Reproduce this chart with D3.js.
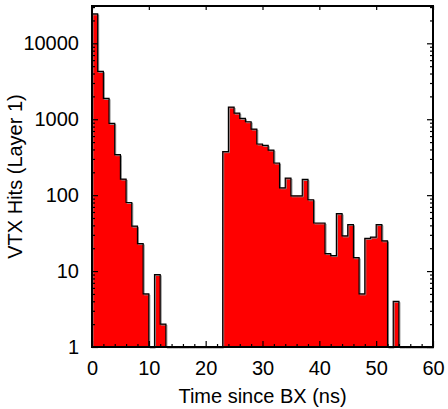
<!DOCTYPE html>
<html>
<head>
<meta charset="utf-8">
<script src="https://cdn.jsdelivr.net/npm/d3@7"></script>
<style>
  html, body { margin: 0; padding: 0; background: #ffffff; }
  svg { display: block; }
  text { font-family: "Liberation Sans", Arial, sans-serif; fill: #000; }
</style>
</head>
<body>
<svg id="chart" width="448" height="409"></svg>
<script>
// Hit-time histogram, 1 ns bins from 0 to 60 ns
const binEdgesStart = 0;
const binWidth = 1;
const hitCounts = [
  24400, 4260, 1880, 880, 341, 163, 80, 39, 23, 5,
  0, 9, 2, 0, 0, 0, 0, 0, 0, 0,
  0, 0, 0, 374, 1446, 1200, 1025, 927, 742, 472,
  452, 393, 265, 125, 168, 98, 98, 161, 87, 43,
  43, 17, 16, 57, 29, 41, 15, 5, 27, 28,
  41, 25, 0, 4, 0, 0, 0, 0, 0, 0
];
const xTickValues = [0, 10, 20, 30, 40, 50, 60];
const yTickValues = [1, 10, 100, 1000, 10000];
const xTitle = "Time since BX (ns)";
const yTitle = "VTX Hits (Layer 1)";

const FONT_SIZE = 20;
const svg = d3.select("#chart");
const plot = { left: 92, right: 433, top: 6, bottom: 347 };

const x = d3.scaleLinear().domain([0, 60]).range([plot.left, plot.right]);
const y = d3.scaleLog().domain([1, 31000]).range([plot.bottom, plot.top]);

const bins = hitCounts.map((c, i) => ({
  x0: binEdgesStart + i * binWidth,
  x1: binEdgesStart + (i + 1) * binWidth,
  count: c
}));

// Step outline of the histogram (empty bins sit on the axis)
const clampY = c => y(Math.max(c, 1));
const stepPts = [[x(bins[0].x0), plot.bottom]];
bins.forEach(d => {
  stepPts.push([x(d.x0), clampY(d.count)]);
  stepPts.push([x(d.x1), clampY(d.count)]);
});
stepPts.push([x(bins[bins.length - 1].x1), plot.bottom]);
const line = d3.line();

const g = svg.append("g");
// Filled histogram body
g.append("path")
  .attr("d", line(stepPts) + "Z")
  .attr("fill", "#ff0000")
  .attr("stroke", "none");
// Soft grey edge under the outline
g.append("path")
  .attr("d", line(stepPts))
  .attr("transform", "translate(1,1)")
  .attr("fill", "none")
  .attr("stroke", "#8a8a8a")
  .attr("stroke-width", 1);
g.append("path")
  .attr("d", line(stepPts))
  .attr("fill", "none")
  .attr("stroke", "#000")
  .attr("stroke-width", 1.2);

// Minor tick positions
const yMinor = [];
for (let e = 0; e <= 4; e++) {
  for (let m = 2; m <= 9; m++) {
    const v = m * Math.pow(10, e);
    if (v <= 31000) yMinor.push(v);
  }
}
const xMinor = d3.range(0, 61, 2).filter(v => v % 10 !== 0);

function styleAxis(sel) {
  sel.select(".domain").remove();
  sel.selectAll(".tick line").attr("stroke", "#000").attr("stroke-width", 1.2);
  sel.selectAll("text").attr("font-size", FONT_SIZE)
    .style("font-family", "'Liberation Sans', Arial, sans-serif").attr("fill", "#000");
}

// Left axis: labels and inward ticks
svg.append("g")
  .attr("transform", `translate(${plot.left},0)`)
  .call(d3.axisLeft(y).tickValues(yTickValues).tickFormat(d3.format("d"))
    .tickSizeInner(-6).tickSizeOuter(0).tickPadding(13))
  .call(styleAxis);
svg.append("g")
  .attr("transform", `translate(${plot.left},0)`)
  .call(d3.axisLeft(y).tickValues(yMinor).tickFormat("").tickSizeInner(-3).tickSizeOuter(0))
  .call(styleAxis);

// Right axis: ticks only
svg.append("g")
  .attr("transform", `translate(${plot.right},0)`)
  .call(d3.axisRight(y).tickValues(yTickValues).tickFormat("").tickSizeInner(-6).tickSizeOuter(0))
  .call(styleAxis);
svg.append("g")
  .attr("transform", `translate(${plot.right},0)`)
  .call(d3.axisRight(y).tickValues(yMinor).tickFormat("").tickSizeInner(-3).tickSizeOuter(0))
  .call(styleAxis);

// Bottom axis
svg.append("g")
  .attr("transform", `translate(0,${plot.bottom})`)
  .call(d3.axisBottom(x).tickValues(xTickValues).tickFormat(d3.format("d"))
    .tickSizeInner(-6).tickSizeOuter(0).tickPadding(14))
  .call(styleAxis);
svg.append("g")
  .attr("transform", `translate(0,${plot.bottom})`)
  .call(d3.axisBottom(x).tickValues(xMinor).tickFormat("").tickSizeInner(-3).tickSizeOuter(0))
  .call(styleAxis);

// Top axis: major ticks only
svg.append("g")
  .attr("transform", `translate(0,${plot.top})`)
  .call(d3.axisTop(x).tickValues(xTickValues).tickFormat("").tickSizeInner(-4).tickSizeOuter(0))
  .call(styleAxis);

// Frame
svg.append("rect")
  .attr("x", plot.left)
  .attr("y", plot.top)
  .attr("width", plot.right - plot.left)
  .attr("height", plot.bottom - plot.top)
  .attr("fill", "none")
  .attr("stroke", "#000")
  .attr("stroke-width", 2);

// Axis titles
svg.append("text")
  .attr("x", (plot.left + plot.right) / 2)
  .attr("y", 403)
  .attr("text-anchor", "middle")
  .attr("font-size", FONT_SIZE)
  .text(xTitle);

svg.append("text")
  .attr("transform", `translate(22,${(plot.top + plot.bottom) / 2}) rotate(-90)`)
  .attr("text-anchor", "middle")
  .attr("font-size", FONT_SIZE)
  .text(yTitle);
</script>
</body>
</html>
